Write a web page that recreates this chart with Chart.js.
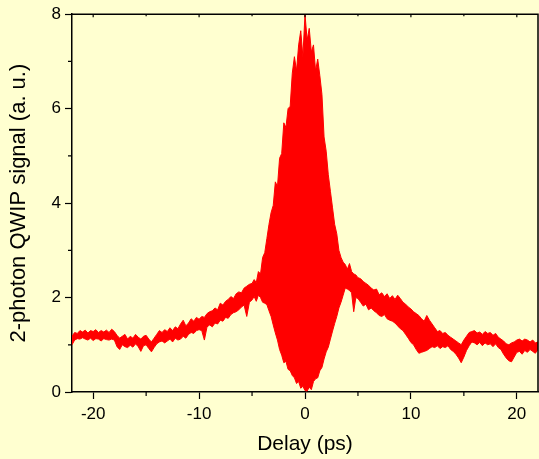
<!DOCTYPE html>
<html>
<head>
<meta charset="utf-8">
<script src="https://cdn.jsdelivr.net/npm/chart.js@4/dist/chart.umd.min.js"></script>
<style>
  html, body { margin: 0; padding: 0; background: #ffffd0; }
  #wrap { width: 539px; height: 459px; }
</style>
</head>
<body>
<div id="wrap"><canvas id="qwip"></canvas></div>
<script>
// delay (ps): 0.25 steps in the wings, 0.2 steps around zero delay
const delay = [
  -22, -21.75, -21.5, -21.25, -21, -20.75, -20.5, -20.25, -20, -19.75, -19.5, -19.25, -19, -18.75, -18.5, -18.25,
  -18, -17.75, -17.5, -17.25, -17, -16.75, -16.5, -16.25, -16, -15.75, -15.5, -15.25, -15, -14.75, -14.5, -14.25,
  -14, -13.75, -13.5, -13.25, -13, -12.75, -12.5, -12.25, -12, -11.75, -11.5, -11.25, -11, -10.75, -10.5, -10.25,
  -10, -9.75, -9.5, -9.25, -9, -8.75, -8.5, -8.25, -8, -7.75, -7.5, -7.25, -7, -6.75, -6.5, -6.25,
  -6, -5.75, -5.5, -5.25,
  -5.0, -4.8, -4.6, -4.4, -4.2, -4.0, -3.8, -3.6, -3.4, -3.2, -3.0, -2.8, -2.6, -2.4, -2.2, -2.0,
  -1.8, -1.6, -1.4, -1.2, -1.0, -0.8, -0.6, -0.4, -0.2, 0.0, 0.2, 0.4, 0.6, 0.8, 1.0, 1.2,
  1.4, 1.6, 1.8, 2.0, 2.2, 2.4, 2.6, 2.8, 3.0, 3.2, 3.4, 3.6, 3.8, 4.0, 4.2, 4.4, 4.6, 4.8, 5.0,
  5.25, 5.5, 5.75, 6,
  6.25, 6.5, 6.75, 7, 7.25, 7.5, 7.75, 8, 8.25, 8.5, 8.75, 9, 9.25, 9.5, 9.75, 10,
  10.25, 10.5, 10.75, 11, 11.25, 11.5, 11.75, 12, 12.25, 12.5, 12.75, 13, 13.25, 13.5, 13.75, 14,
  14.25, 14.5, 14.75, 15, 15.25, 15.5, 15.75, 16, 16.25, 16.5, 16.75, 17, 17.25, 17.5, 17.75, 18,
  18.25, 18.5, 18.75, 19, 19.25, 19.5, 19.75, 20, 20.25, 20.5, 20.75, 21, 21.25, 21.5, 21.75, 22
]

// upper edge of the fringe signal
const signalHigh = [
  1.18, 1.26, 1.24, 1.30, 1.27, 1.31, 1.25, 1.30, 1.28, 1.32, 1.26, 1.30, 1.27, 1.31, 1.26, 1.33,
  1.28, 1.20, 1.14, 1.18, 1.22, 1.12, 1.18, 1.14, 1.22, 1.16, 1.12, 1.18, 1.20, 1.12, 1.06, 1.14,
  1.22, 1.30, 1.26, 1.32, 1.28, 1.36, 1.30, 1.38, 1.34, 1.44, 1.52, 1.40, 1.46, 1.55, 1.50, 1.58,
  1.54, 1.60, 1.58, 1.66, 1.70, 1.72, 1.78, 1.74, 1.88, 1.84, 1.92, 1.96, 2.02, 1.98, 2.08, 2.12,
  2.10, 2.20, 2.24, 2.28,
  2.30, 2.38, 2.32, 2.55, 2.50, 2.85, 2.95, 3.25, 3.55, 3.80, 3.95, 4.45, 4.35, 4.95, 5.05, 5.70,
  5.60, 6.00, 6.05, 6.75, 7.10, 6.80, 7.35, 7.65, 7.10, 8.00, 7.45, 7.70, 7.20, 7.35, 6.80, 7.05,
  6.70, 6.30, 5.40, 5.10, 4.60, 4.25, 3.90, 3.55, 3.35, 3.00, 2.85, 2.75, 2.70, 2.60, 2.72, 2.55, 2.50, 2.48, 2.42,
  2.40, 2.34, 2.30, 2.26,
  2.20, 2.16, 2.18, 2.06, 2.10, 2.02, 2.08, 1.98, 2.04, 1.96, 2.05, 1.98, 1.90, 1.86, 1.80, 1.76,
  1.70, 1.66, 1.62, 1.55, 1.50, 1.62, 1.52, 1.44, 1.36, 1.28, 1.30, 1.24, 1.26, 1.20, 1.16, 1.12,
  1.08, 1.04, 1.00, 1.10, 1.18, 1.26, 1.28, 1.30, 1.25, 1.27, 1.22, 1.28, 1.24, 1.26, 1.20, 1.24,
  1.16, 1.12, 1.08, 1.02, 1.00, 1.04, 1.06, 1.10, 1.12, 1.08, 1.12, 1.10, 1.06, 1.10, 1.04, 1.06
]

// lower edge of the fringe signal
const signalLow = [
  1.00, 1.10, 1.13, 1.12, 1.15, 1.12, 1.10, 1.14, 1.09, 1.13, 1.12, 1.08, 1.13, 1.11, 1.10, 1.12,
  1.10, 0.96, 0.90, 1.00, 0.96, 0.94, 0.99, 0.95, 1.02, 0.96, 0.86, 0.98, 1.00, 0.92, 0.85, 0.94,
  1.02, 1.06, 1.08, 1.04, 1.08, 1.12, 1.06, 1.14, 1.10, 1.12, 1.18, 1.14, 1.22, 1.26, 1.24, 1.30,
  1.32, 1.30, 1.10, 1.38, 1.42, 1.38, 1.46, 1.44, 1.52, 1.50, 1.58, 1.56, 1.64, 1.68, 1.70, 1.74,
  1.80, 1.84, 1.60, 1.90,
  1.95, 2.02, 1.92, 2.05, 2.00, 1.90, 1.88, 1.85, 1.72, 1.60, 1.42, 1.25, 1.10, 0.90, 0.78, 0.62,
  0.65, 0.48, 0.45, 0.35, 0.30, 0.18, 0.22, 0.08, 0.12, 0.03, 0.02, 0.10, 0.05, 0.22, 0.28, 0.30,
  0.45, 0.52, 0.70, 0.85, 0.95, 1.12, 1.29, 1.45, 1.60, 1.78, 1.90, 2.05, 2.20, 2.18, 2.15, 2.10, 1.70, 2.00, 1.98,
  1.90, 1.82, 1.86, 1.74,
  1.78, 1.72, 1.68, 1.62, 1.60, 1.64, 1.55, 1.52, 1.50, 1.46, 1.40, 1.34, 1.30, 1.22, 1.14, 1.05,
  1.00, 0.90, 0.82, 0.84, 0.86, 0.88, 0.92, 0.96, 0.94, 0.98, 0.92, 0.96, 0.94, 0.98, 0.90, 0.86,
  0.80, 0.72, 0.62, 0.74, 0.88, 0.98, 1.06, 1.04, 1.00, 1.05, 0.98, 1.04, 1.00, 1.02, 0.96, 1.02,
  0.94, 0.90, 0.80, 0.72, 0.66, 0.64, 0.74, 0.84, 0.86, 0.80, 0.88, 0.84, 0.90, 0.86, 0.82, 0.90
]

const xTicks = [-20, -10, 0, 10, 20]
const xMinor = [-15, -5, 5, 15]
const yTicks = [0, 2, 4, 6, 8]
const yMinor = [1, 3, 5, 7]

const bg = '#ffffd0'
const red = '#ff0000'
const font = 'Liberation Sans, Arial, sans-serif'

const framePlugin = {
  id: 'frame',
  beforeDraw(chart) {
    const c = chart.ctx
    c.save()
    c.fillStyle = bg
    c.fillRect(0, 0, chart.width, chart.height)
    c.restore()
  },
  afterDraw(chart) {
    const c = chart.ctx
    const a = chart.chartArea
    const xs = chart.scales.x
    const ys = chart.scales.y
    c.save()
    c.strokeStyle = '#000'
    c.lineWidth = 1.5
    c.beginPath()
    c.moveTo(a.left, a.top)
    c.lineTo(a.right, a.top)
    c.lineTo(a.right, a.bottom)
    c.stroke()
    c.lineWidth = 1.2
    c.beginPath()
    xMinor.forEach(v => {
      const px = xs.getPixelForValue(v)
      c.moveTo(px, a.bottom)
      c.lineTo(px, a.bottom + 4)
      c.moveTo(px, a.top)
      c.lineTo(px, a.top + 2)
    })
    xTicks.forEach(v => {
      const px = xs.getPixelForValue(v)
      c.moveTo(px, a.top)
      c.lineTo(px, a.top + 3)
    })
    yMinor.forEach(v => {
      const py = ys.getPixelForValue(v)
      c.moveTo(a.left - 4, py)
      c.lineTo(a.left, py)
    })
    c.stroke()
    c.restore()
  }
}

const ctx = document.getElementById('qwip').getContext('2d')

const qwipChart = new Chart(ctx, {
  type: 'line',
  data: {
    datasets: [{
      label: 'upper',
      data: delay.map((d, i) => ({ x: d, y: signalHigh[i] })),
      borderColor: red,
      backgroundColor: red,
      borderWidth: 1,
      pointRadius: 0,
      fill: '+1'
    }, {
      label: 'lower',
      data: delay.map((d, i) => ({ x: d, y: signalLow[i] })),
      borderColor: red,
      borderWidth: 1,
      pointRadius: 0,
      fill: false
    }]
  },
  options: {
    responsive: true,
    maintainAspectRatio: false,
    animation: false,
    layout: { padding: { left: 0, right: 1, top: 14, bottom: 0 } },
    plugins: {
      legend: { display: false },
      tooltip: { enabled: false }
    },
    scales: {
      x: {
        type: 'linear',
        min: -22,
        max: 22,
        afterBuildTicks: s => { s.ticks = xTicks.map(v => ({ value: v })) },
        afterFit: s => { s.height = 67 },
        border: { color: '#000', width: 1.5 },
        grid: { drawOnChartArea: false, tickLength: 7, tickColor: '#000', tickWidth: 1.2 },
        ticks: {
          color: '#000',
          padding: 5,
          maxRotation: 0,
          font: { family: font, size: 17 }
        },
        title: {
          display: true,
          text: 'Delay (ps)',
          color: '#000',
          padding: { top: 0, bottom: 2 },
          font: { family: font, size: 21 }
        }
      },
      y: {
        min: 0,
        max: 8,
        afterBuildTicks: s => { s.ticks = yTicks.map(v => ({ value: v })) },
        afterFit: s => { s.width = 72 },
        border: { color: '#000', width: 1.5 },
        grid: { drawOnChartArea: false, tickLength: 7, tickColor: '#000', tickWidth: 1.2 },
        ticks: {
          color: '#000',
          padding: 4,
          font: { family: font, size: 17 }
        },
        title: {
          display: true,
          text: '2-photon QWIP signal (a. u.)',
          color: '#000',
          padding: { top: 6, bottom: 0 },
          font: { family: font, size: 22 }
        }
      }
    }
  },
  plugins: [framePlugin]
})
</script>
</body>
</html>
